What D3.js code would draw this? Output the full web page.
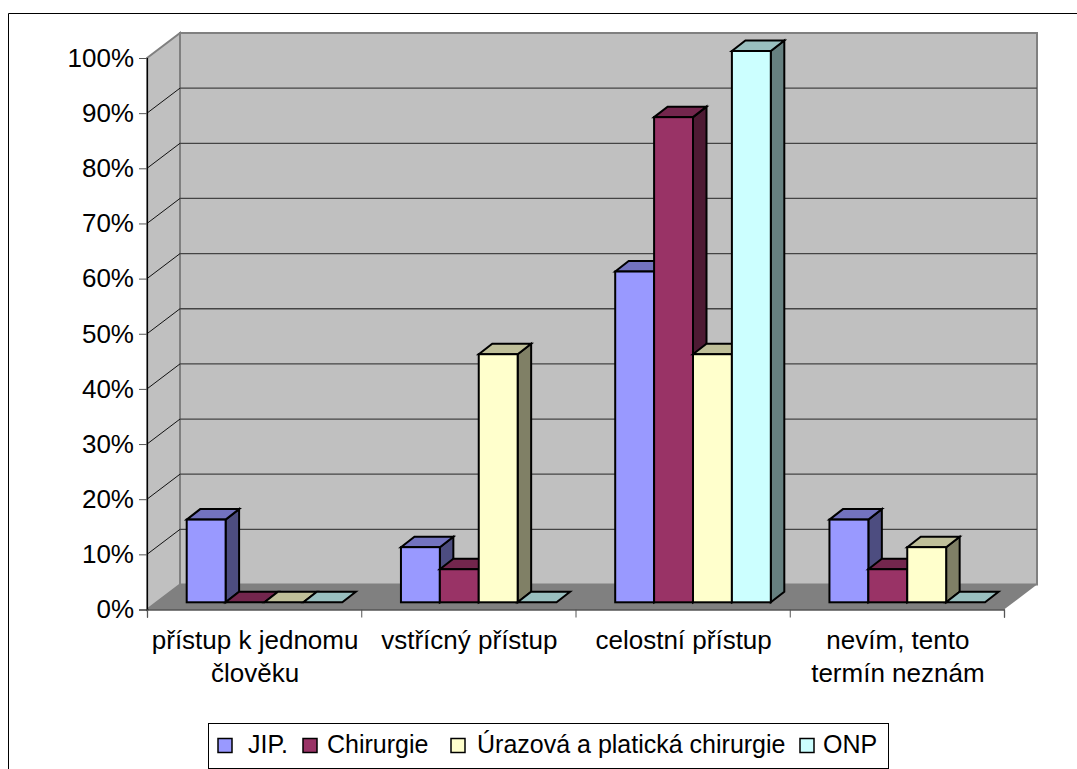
<!DOCTYPE html>
<html>
<head>
<meta charset="utf-8">
<script src="https://cdn.jsdelivr.net/npm/d3@7/dist/d3.min.js"></script>
<style>
html,body{margin:0;padding:0;background:#fff;}
svg{display:block;}
text{font-family:"Liberation Sans",Arial,sans-serif;fill:#000;}
</style>
</head>
<body>
<svg id="chart" width="1077" height="769"></svg>
<script>
const categories = [["přístup k jednomu","člověku"],["vstřícný přístup"],["celostní přístup"],["nevím, tento","termín neznám"]];
const seriesNames = ["JIP.","Chirurgie","Úrazová a platická chirurgie","ONP"];
const jip = [15,10,60,15];
const chirurgie = [0,6,88,6];
const urazova = [0,45,45,10];
const onp = [0,0,100,0];
const seriesValues = [jip,chirurgie,urazova,onp];
const seriesFill = ["#9999FF","#993366","#FFFFCC","#CCFFFF"];
const seriesTop = ["#7373BF","#73264D","#BFBF99","#99BFBF"];
const seriesSide = ["#4D4D80","#4D1A33","#808066","#668080"];
const yTicks = d3.range(0,101,10);

const svg = d3.select("#chart");

// Oblique box: floor and walls recede by (depthX, depthY)
const depthX = 33, depthY = -25;
const x = d3.scaleLinear().domain([0,4]).range([147,1004]);
const y = d3.scaleLinear().domain([0,100]).range([609.5,58]);
const barY = d3.scaleLinear().domain([0,100]).range([602.3,51]);
const barW = 38.9, barDX = 13.5, barDY = -10.5, barStart = 39.7;
const poly = pts => pts.map(p => p.join(",")).join(" ");

// Chart frame
svg.append("path").attr("d","M8.5 769V13.5H1077").attr("fill","none").attr("stroke","#000").attr("stroke-width",1);

// Walls and floor
svg.append("polygon").attr("points",poly([[x(0)+depthX,y(100)+depthY],[x(4)+depthX,y(100)+depthY],[x(4)+depthX,y(0)+depthY],[x(0)+depthX,y(0)+depthY]]))
  .attr("fill","#C0C0C0").attr("stroke","#808080").attr("stroke-width",2);
svg.append("polygon").attr("points",poly([[x(0),y(100)],[x(0)+depthX,y(100)+depthY],[x(0)+depthX,y(0)+depthY],[x(0),y(0)]]))
  .attr("fill","#C0C0C0").attr("stroke","#808080").attr("stroke-width",2);
svg.append("polygon").attr("points",poly([[x(0),y(0)],[x(0)+depthX,y(0)+depthY],[x(4)+depthX,y(0)+depthY],[x(4),y(0)]]))
  .attr("fill","#808080");

// Gridlines across side wall and back wall
const grid = svg.append("g");
yTicks.filter(t => t>0 && t<100).forEach(t => {
  grid.append("path")
    .attr("d",d3.line()([[x(0),y(t)],[x(0)+depthX,y(t)+depthY]]))
    .attr("fill","none").attr("stroke","#111").attr("stroke-width",1);
  grid.append("path")
    .attr("d",d3.line()([[x(0)+depthX,y(t)+depthY],[x(4)+depthX,y(t)+depthY]]))
    .attr("fill","none").attr("stroke","#444").attr("stroke-width",1.3);
});

// Bars as three-face boxes, left to right so later bars overlap earlier sides
categories.forEach((c,ci) => {
  seriesValues.forEach((vals,si) => {
    const v = vals[ci];
    const x0 = x(ci)+barStart+si*barW, x1 = x0+barW;
    const yb = barY(0), yt = barY(v);
    const g = svg.append("g").attr("stroke","#000").attr("stroke-width",2).attr("stroke-linejoin","miter");
    if (v>0) g.append("polygon").attr("points",poly([[x1,yt],[x1+barDX,yt+barDY],[x1+barDX,yb+barDY],[x1,yb]])).attr("fill",seriesSide[si]);
    g.append("polygon").attr("points",poly([[x0,yt],[x0+barDX,yt+barDY],[x1+barDX,yt+barDY],[x1,yt]])).attr("fill",seriesTop[si]);
    if (v>0) g.append("rect").attr("x",x0).attr("y",yt).attr("width",barW).attr("height",yb-yt).attr("fill",seriesFill[si]);
  });
});

// Value axis
const yAxis = d3.axisLeft(y).tickValues(yTicks).tickSize(8).tickPadding(5).tickFormat(d => d+"%");
const ya = svg.append("g").attr("transform",`translate(${x(0)},0)`).call(yAxis);
ya.selectAll("text").style("font-size","26px");
ya.selectAll("line").attr("stroke","#555");
ya.select(".domain").attr("stroke","#000").attr("stroke-width",1.2);

// Category axis
const xAxis = d3.axisBottom(x).tickValues(d3.range(0,5)).tickSize(8).tickFormat("");
const xa = svg.append("g").attr("transform",`translate(0,${y(0)})`).call(xAxis);
xa.selectAll("line").attr("stroke","#555");
xa.select(".domain").attr("stroke","#000").attr("stroke-width",1.2);
categories.forEach((lines,ci) => {
  lines.forEach((line,li) => {
    svg.append("text").attr("x",x(ci+0.5)+1).attr("y",649+li*33).attr("text-anchor","middle").style("font-size","26px").text(line);
  });
});

// Legend
const legend = svg.append("g");
legend.append("rect").attr("x",208.5).attr("y",723.5).attr("width",680).attr("height",45).attr("fill","#fff").attr("stroke","#000");
const legendKeys = [218,303,451,800];
const legendText = [248,327,477,823];
seriesNames.forEach((n,i) => {
  legend.append("rect").attr("x",legendKeys[i]).attr("y",738.5).attr("width",14).attr("height",14).attr("fill",seriesFill[i]).attr("stroke","#000").attr("stroke-width",1.5);
  legend.append("text").attr("x",legendText[i]).attr("y",753).style("font-size","25px").text(n);
});
</script>
</body>
</html>
